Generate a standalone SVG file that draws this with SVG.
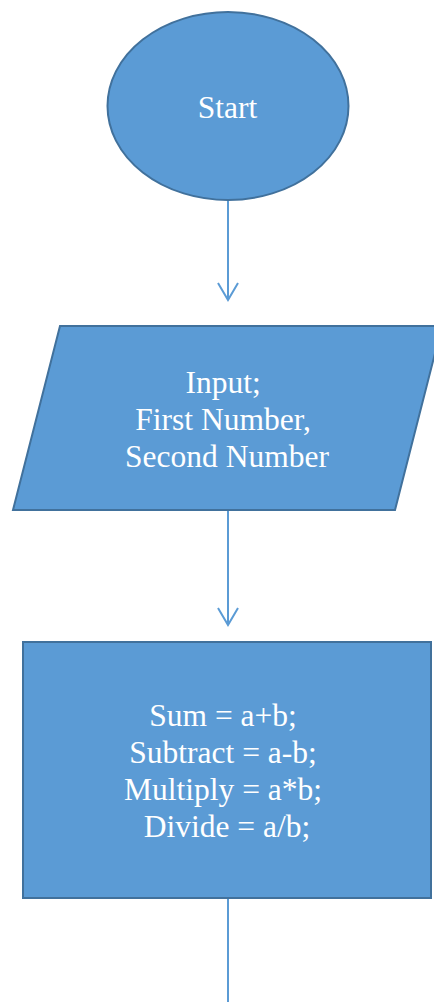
<svg xmlns="http://www.w3.org/2000/svg" width="434" height="1002" viewBox="0 0 434 1002">
  <style>
    .shape { fill: #5B9BD5; stroke: #41719C; stroke-width: 2; }
    .label { font-family: 'Liberation Serif', 'Times New Roman', Tinos, serif; font-size: 31.5px; fill: #FFFFFF; text-anchor: middle; }
    .flow { stroke: #5B9BD5; stroke-width: 2; fill: none; }
  </style>
  <defs>
    <marker id="arrow" markerUnits="userSpaceOnUse" markerWidth="20" markerHeight="24" refX="18" refY="11" orient="auto" viewBox="0 0 20 22">
      <path d="M1 1 L18 11 L1 21" fill="none" stroke="#5B9BD5" stroke-width="2"/>
    </marker>
  </defs>

  <g id="connectors">
    <line class="flow" x1="228" y1="200" x2="228" y2="300" marker-end="url(#arrow)"/>
    <line class="flow" x1="228" y1="510" x2="228" y2="625" marker-end="url(#arrow)"/>
    <line class="flow" x1="228" y1="898" x2="228" y2="1002"/>
  </g>

  <g id="start">
    <ellipse class="shape" cx="228" cy="106" rx="120.5" ry="94"/>
    <text class="label" x="227.5" y="118" font-family="Liberation Serif, serif">Start</text>
  </g>

  <g id="input">
    <polygon class="shape" points="60,326 442,326 395,510 13,510"/>
    <text class="label" x="227" font-family="Liberation Serif, serif">
      <tspan x="227" y="393">Input;</tspan>
      <tspan x="227" y="430">First Number,</tspan>
      <tspan x="227" y="467">Second Number</tspan>
    </text>
  </g>

  <g id="process">
    <rect class="shape" x="23" y="642" width="408" height="256"/>
    <text class="label" x="227" font-family="Liberation Serif, serif">
      <tspan x="227" y="726">Sum = a+b;</tspan>
      <tspan x="227" y="763">Subtract = a-b;</tspan>
      <tspan x="227" y="800">Multiply = a*b;</tspan>
      <tspan x="227" y="837">Divide = a/b;</tspan>
    </text>
  </g>
</svg>
